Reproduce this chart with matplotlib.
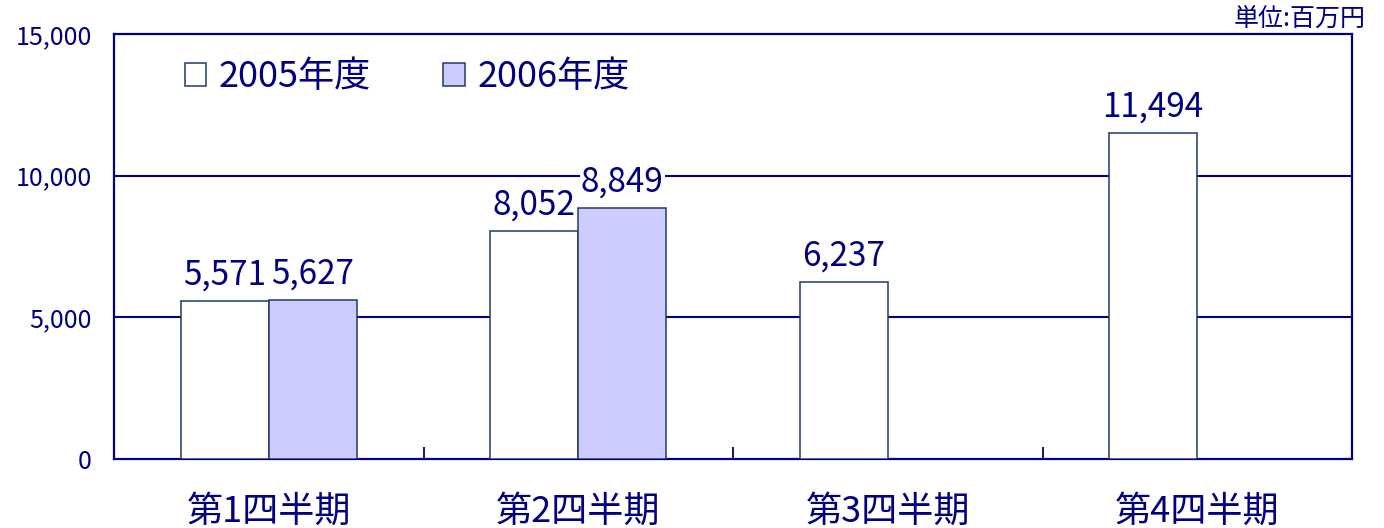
import numpy as np
import matplotlib
matplotlib.use('Agg')
import matplotlib.pyplot as plt
from matplotlib.patches import Patch
from matplotlib.ticker import FuncFormatter

plt.rcParams['font.family'] = ['Noto Sans CJK JP', 'DejaVu Sans']

# data (百万円)
quarters = ['第1四半期', '第2四半期', '第3四半期', '第4四半期']
fy2005 = [5571, 8052, 6237, 11494]
fy2006 = [5627, 8849, np.nan, np.nan]
series_names = ['2005年度', '2006年度']

navy = '#000080'
edge = '#1F3A68'
lavender = '#CCCCFF'

fig = plt.figure(figsize=(13.84, 5.28), dpi=100)
ax = fig.add_axes([114 / 1384, 69 / 528, 1238 / 1384, 425 / 528])

x = np.arange(len(quarters))
w = 0.285
b1 = ax.bar(x - w / 2, fy2005, width=w, facecolor='white', edgecolor=edge, linewidth=1.1, zorder=3)
b2 = ax.bar(x + w / 2, fy2006, width=w, facecolor=lavender, edgecolor=edge, linewidth=1.1, zorder=3)

# value labels with white box so the gridline is broken behind them
for bars, vals in ((b1, fy2005), (b2, fy2006)):
    for rect, v in zip(bars, vals):
        if np.isnan(v):
            continue
        ax.annotate(f'{int(v):,}', (rect.get_x() + rect.get_width() / 2, v),
                    xytext=(0, 6), textcoords='offset points',
                    ha='center', va='bottom', fontsize=24, color=navy,
                    bbox=dict(facecolor='white', edgecolor='none', pad=1),
                    zorder=4)

ax.set_xlim(-0.5, len(quarters) - 0.5)
ax.set_ylim(0, 15000)
ax.set_yticks([0, 5000, 10000, 15000])
ax.yaxis.set_major_formatter(FuncFormatter(lambda v, p: f'{int(v):,}'))
ax.set_xticks(x)
ax.set_xticklabels(quarters)
ax.set_xticks(x[:-1] + 0.5, minor=True)

ax.tick_params(axis='x', which='major', length=0, pad=25, labelsize=26, labelcolor=navy)
ax.tick_params(axis='x', which='minor', direction='in', length=9, width=1.3, color=navy)
ax.tick_params(axis='y', length=0, pad=16, labelsize=18, labelcolor=navy)

for y in (5000, 10000):
    ax.axhline(y, color=navy, linewidth=1.5, zorder=1)

for s in ax.spines.values():
    s.set_color(navy)
    s.set_linewidth(1.6)

handles = [Patch(facecolor='white', edgecolor=edge, linewidth=1.1),
           Patch(facecolor=lavender, edgecolor=edge, linewidth=1.1)]
leg = ax.legend(handles, series_names, loc='upper left', bbox_to_anchor=(0.057, 0.94),
                ncol=2, frameon=False, fontsize=26, borderpad=0, borderaxespad=0,
                handlelength=0.6, handleheight=0.6, handletextpad=0.35,
                columnspacing=2.0)
for t in leg.get_texts():
    t.set_color(navy)

fig.text(1366 / 1384, 1 - 19 / 528, '単位:百万円', ha='right', va='center',
         fontsize=18, color=navy)

fig.savefig('out.png', dpi=100)
